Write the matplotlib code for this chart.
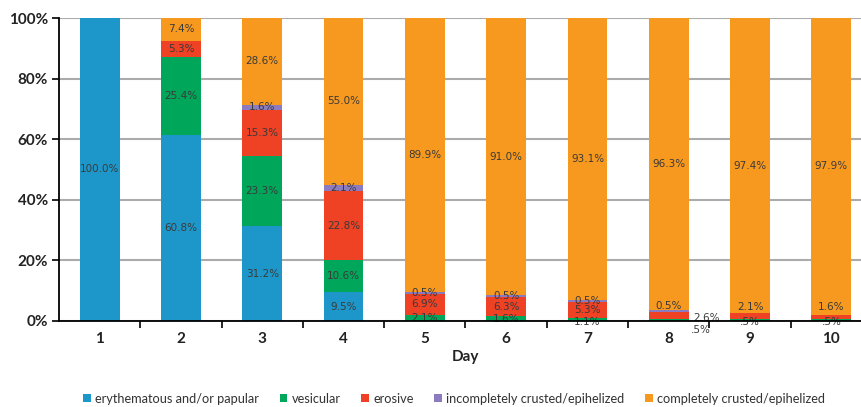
import matplotlib
matplotlib.use("Agg")
import matplotlib.pyplot as plt
import numpy as np
from matplotlib.ticker import FixedLocator, PercentFormatter

# Lesion stage share per day of observation
days = ["1", "2", "3", "4", "5", "6", "7", "8", "9", "10"]
erythematous = [100.0, 60.8, 31.2, 9.5, 0, 0, 0, 0, 0, 0]
vesicular = [0, 25.4, 23.3, 10.6, 2.1, 1.6, 1.1, 0.5, 0.5, 0.5]
erosive = [0, 5.3, 15.3, 22.8, 6.9, 6.3, 5.3, 2.6, 2.1, 1.6]
incompletely = [0, 0, 1.6, 2.1, 0.5, 0.5, 0.5, 0.5, 0, 0]
completely = [0, 7.4, 28.6, 55.0, 89.9, 91.0, 93.1, 96.3, 97.4, 97.9]

series_names = ["erythematous and/or papular", "vesicular", "erosive",
                "incompletely crusted/epihelized", "completely crusted/epihelized"]
colors = ["#1d97c9", "#00a65a", "#ef4124", "#8d7bbf", "#f7991e"]

# hand-placed labels for the thin segments on the last days: (day, series) -> (dx, y)
label_moves = {
    (7, 3): (0.0, 5.0),
    (7, 2): (0.47, 1.0),
    (7, 1): (0.40, -3.0),
    (8, 2): (0.0, 4.6),
    (8, 1): (0.0, -0.4),
    (9, 2): (0.0, 4.6),
    (9, 1): (0.0, -0.4),
    (6, 1): (0.0, -0.4),
}

data = np.array([erythematous, vesicular, erosive, incompletely, completely])
shares = data / data.sum(axis=0) * 100

fig = plt.figure(figsize=(8.62, 4.07), dpi=100)
ax = fig.add_axes([59 / 862, 86 / 407, 813 / 862, 303 / 407])

x = np.arange(len(days))
bottom = np.zeros(len(days))
for i, (name, color) in enumerate(zip(series_names, colors)):
    ax.bar(x, shares[i], 0.49, bottom=bottom, color=color, label=name, zorder=2)
    for j in range(len(days)):
        if data[i, j] <= 0:
            continue
        text = f"{data[i, j]:.1f}%"
        ypos = bottom[j] + shares[i, j] / 2
        dx = 0.0
        if (j, i) in label_moves:
            dx, ypos = label_moves[(j, i)]
            if ypos < 0 or (j, i) in [(8, 1), (9, 1)]:
                text = text.lstrip("0")
        ax.text(x[j] + dx, ypos, text, ha="center", va="center",
                fontsize=7.5, color="#3a3a3a", family="DejaVu Sans", zorder=3)
    bottom += shares[i]

ax.set_xlim(-0.5, len(days) - 0.5)
ax.set_ylim(0, 100)
ax.yaxis.set_major_locator(FixedLocator([0, 20, 40, 60, 80, 100]))
ax.yaxis.set_major_formatter(PercentFormatter(decimals=0))
ax.set_xticks(x)
ax.set_xticklabels(days)
ax.xaxis.set_minor_locator(FixedLocator(x[:-1] + 0.5))
ax.tick_params(axis="x", which="major", length=0, pad=8)
ax.tick_params(axis="x", which="minor", length=5, width=1.2, direction="out")
ax.tick_params(axis="y", length=5, width=1.2, direction="out", pad=3)
for lab in ax.get_xticklabels() + ax.get_yticklabels():
    lab.set_fontweight("bold")
    lab.set_fontsize(11)
    lab.set_family("Lato")
    lab.set_color("#222222")

ax.grid(axis="y", color="#ababab", linewidth=1.5, zorder=0)
for side in ["top", "right"]:
    ax.spines[side].set_visible(False)
for side in ["left", "bottom"]:
    ax.spines[side].set_linewidth(1.3)
    ax.spines[side].set_zorder(4)

ax.set_xlabel("Day", fontsize=11, fontweight="bold", family="Lato",
              color="#222222", labelpad=3)

fig.legend(loc="center", bbox_to_anchor=(0.527, 0.02), ncol=5, frameon=False,
           handlelength=0.6, handleheight=0.6, handletextpad=0.35,
           columnspacing=1.6, prop={"family": "Lato", "size": 9.2},
           labelcolor="#333333")

fig.savefig("out.png", dpi=100)
